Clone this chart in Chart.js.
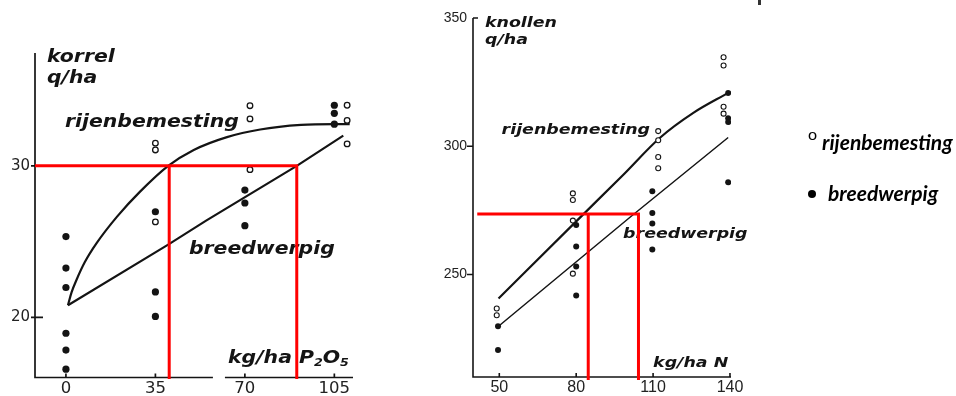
<!DOCTYPE html>
<html lang="nl">
<head>
<meta charset="utf-8">
<title>Rijenbemesting en breedwerpige bemesting</title>
<script src="https://cdn.jsdelivr.net/npm/chart.js@4.4.1/dist/chart.umd.min.js"></script>
<style>
  html, body { margin: 0; padding: 0; background: #fff; }
  #stage { position: relative; width: 956px; height: 396px; overflow: hidden; background: #fff; }
  #stage canvas { position: absolute; left: 0; top: 0; }
  .key { position: absolute; font-family: Lato, "Open Sans", sans-serif; font-style: italic; font-weight: 700;
         font-size: 21px; line-height: 21px; color: #000; white-space: pre; }
  .key-open { position: absolute; font-family: Lato, sans-serif; font-size: 16px; line-height: 16px; color: #000; }
  .key-dot { position: absolute; width: 8px; height: 8px; border-radius: 50%; background: #000; }
  .edge-mark { position: absolute; left: 758px; top: 0; width: 3px; height: 5px; background: #333; }
</style>
</head>
<body>
<div id="stage">
  <canvas id="grain" width="956" height="396"></canvas>
  <canvas id="tubers" width="956" height="396"></canvas>
  <div class="key-open" style="left:808px; top:126px;">o</div>
  <div class="key" style="left:822px; top:131px;">rijenbemesting</div>
  <div class="key-dot" style="left:808px; top:190px;"></div>
  <div class="key" style="left:828px; top:182px;">breedwerpig</div>
  <div class="edge-mark"></div>
</div>
<script>
// ---- Graan: korrelopbrengst (q/ha) bij oplopende fosfaatgift (kg/ha P2O5) ----
const grainTicksX = [0, 35, 70, 105];
const grainTicksY = [20, 30];

// rijenbemesting (open rondjes)
const grainRowX = [35, 35, 35, 72, 72, 72, 110, 110, 110];
const grainRowY = [31.5, 31.05, 26.3, 33.97, 33.1, 29.75, 34.0, 33.0, 31.45];
// breedwerpig (dichte punten)
const grainBroadX = [0, 0, 0, 0, 0, 0, 35, 35, 35, 70, 70, 70, 105, 105, 105];
const grainBroadY = [25.33, 23.25, 21.97, 18.95, 17.84, 16.58, 26.97, 21.68, 20.06, 28.4, 27.55, 26.05, 34.0, 33.47, 32.75];

// responscurven
const grainRowCurveX = [0.8, 2.2, 4.2, 7.4, 12, 20, 29, 40, 50, 63, 76, 92, 105, 111];
const grainRowCurveY = [20.8, 21.65, 22.5, 23.65, 24.9, 26.65, 28.3, 30.0, 31.05, 31.9, 32.4, 32.7, 32.75, 32.75];
const grainBroadLineX = [0.8, 40, 55, 90.3, 108.5];
const grainBroadLineY = [20.8, 24.8, 26.4, 30.0, 32.0];

// hulplijnen bij 30 q/ha
const grainGuideAX = [-12.1, 90.3, 90.3];
const grainGuideAY = [30, 30, 15.93];
const grainGuideBX = [40.4, 40.4];
const grainGuideBY = [30, 15.93];

// ---- Aardappel: knolopbrengst (q/ha) bij oplopende stikstofgift (kg/ha N) ----
const tuberTicksX = [50, 80, 110, 140];
const tuberTicksY = [250, 300, 350];

const tuberRowX = [49, 49, 78.7, 78.7, 78.7, 78.7, 112, 112, 112, 112, 137.5, 137.5, 137.5, 137.5];
const tuberRowY = [236.7, 234.1, 281.6, 279.0, 271.0, 250.3, 305.9, 302.3, 295.8, 291.4, 334.7, 331.5, 315.4, 312.7];
const tuberBroadX = [49.5, 49.5, 80, 80, 80, 80, 109.7, 109.7, 109.7, 109.7, 139.3, 139.3, 139.3, 139.3];
const tuberBroadY = [229.8, 220.5, 269.3, 260.9, 253.1, 241.8, 282.4, 274.0, 269.9, 259.7, 320.8, 310.9, 309.4, 285.9];

const tuberRowCurveX = [49.7, 80, 98.3, 112.7, 125.7, 139.3];
const tuberRowCurveY = [240.6, 270.7, 288.8, 303.3, 313.0, 320.8];
const tuberBroadLineX = [49.7, 101, 139.3];
const tuberBroadLineY = [229.8, 272.3, 303.4];

const tuberGuideAX = [41.4, 104.3, 104.3];
const tuberGuideAY = [273.6, 273.6, 208.8];
const tuberGuideBX = [84.7, 84.7];
const tuberGuideBY = [273.6, 208.8];

const INK = '#141414';
const RED = '#ff0000';

const pts = (xs, ys) => xs.map((x, i) => ({ x, y: ys[i] }));

// Assen zoals in de oorspronkelijke figuur: alleen lijnen, korte streepjes naar binnen
const scanAxes = {
  id: 'scanAxes',
  beforeDatasetsDraw(chart, args, o) {
    const { ctx, chartArea: a, scales: { x, y } } = chart;
    ctx.save();
    ctx.strokeStyle = INK;
    ctx.lineWidth = o.width;
    ctx.lineCap = 'butt';
    ctx.beginPath();
    ctx.moveTo(a.left, a.top);
    ctx.lineTo(a.left, a.bottom + o.width / 2);
    let start = a.left - o.width / 2;
    for (const [g0, g1] of o.breaks) {
      ctx.moveTo(start, a.bottom);
      ctx.lineTo(x.getPixelForValue(g0), a.bottom);
      start = x.getPixelForValue(g1);
    }
    ctx.moveTo(start, a.bottom);
    ctx.lineTo(a.right, a.bottom);
    for (const t of y.ticks) {
      const py = y.getPixelForValue(t.value);
      if (o.capIn && t.value >= y.max) {
        ctx.moveTo(a.left, py);
        ctx.lineTo(a.left + o.capIn, py);
      } else {
        ctx.moveTo(a.left - o.yOut, py);
        ctx.lineTo(a.left + o.yIn, py);
      }
    }
    for (const t of x.ticks) {
      const px = x.getPixelForValue(t.value);
      ctx.moveTo(px, a.bottom);
      ctx.lineTo(px, a.bottom - o.xUp);
    }
    ctx.stroke();
    ctx.restore();
  }
};

// Vette schuine opschriften binnen de grafiek, verankerd aan de schalen
const panelText = {
  id: 'panelText',
  beforeDatasetsDraw(chart, args, o) {
    const { ctx, scales: { x, y } } = chart;
    ctx.save();
    ctx.fillStyle = INK;
    ctx.textBaseline = 'alphabetic';
    ctx.textAlign = 'left';
    for (const item of o.items) {
      ctx.save();
      ctx.translate(x.getPixelForValue(item.x), y.getPixelForValue(item.y));
      ctx.scale(o.stretch, 1);
      let cx = 0;
      for (const part of item.parts) {
        const size = part.sub ? o.size * 0.62 : o.size;
        ctx.font = `italic bold ${size}px "DejaVu Sans"`;
        ctx.fillText(part.t, cx, part.sub ? size * 0.3 : 0);
        cx += ctx.measureText(part.t).width;
      }
      ctx.restore();
    }
    ctx.restore();
  }
};

function axis(cfg) {
  return {
    type: 'linear',
    min: cfg.min,
    max: cfg.max,
    afterBuildTicks: s => { s.ticks = cfg.ticks.map(v => ({ value: v })); },
    afterFit: s => {
      if (s.isHorizontal()) s.height = cfg.size; else s.width = cfg.size;
      s.paddingLeft = s.paddingRight = s.paddingTop = s.paddingBottom = 0;
    },
    grid: { display: false, drawTicks: false },
    border: { display: false },
    ticks: {
      color: '#222', font: cfg.font, padding: cfg.pad,
      autoSkip: false, maxRotation: 0, minRotation: 0,
      callback: v => String(v)
    }
  };
}

function lineSet(xs, ys, color, width, extra) {
  return Object.assign({
    type: 'line', data: pts(xs, ys), borderColor: color, borderWidth: width,
    pointRadius: 0, showLine: true, fill: false, tension: 0
  }, extra || {});
}

function dotSet(xs, ys, r) {
  return { type: 'scatter', data: pts(xs, ys), pointRadius: r,
           pointBackgroundColor: INK, pointBorderColor: INK, pointBorderWidth: 0 };
}

function ringSet(xs, ys, r, w) {
  return { type: 'scatter', data: pts(xs, ys), pointRadius: r,
           pointBackgroundColor: '#fff', pointBorderColor: INK, pointBorderWidth: w };
}

const common = {
  responsive: false,
  animation: false,
  devicePixelRatio: 1,
  events: [],
};

new Chart(document.getElementById('grain'), {
  type: 'scatter',
  data: {
    datasets: [
      lineSet(grainGuideAX, grainGuideAY, RED, 3, { clip: false }),
      lineSet(grainGuideBX, grainGuideBY, RED, 3, { clip: false }),
      dotSet(grainBroadX, grainBroadY, 3.6),
      ringSet(grainRowX, grainRowY, 2.8, 1.3),
      lineSet(grainRowCurveX, grainRowCurveY, INK, 2.2, { cubicInterpolationMode: 'monotone' }),
      lineSet(grainBroadLineX, grainBroadLineY, INK, 2.2)
    ]
  },
  options: Object.assign({}, common, {
    layout: { padding: { left: 0, right: 603, top: 53, bottom: 0 } },
    plugins: {
      legend: { display: false },
      tooltip: { enabled: false },
      scanAxes: { width: 1.7, breaks: [[57.5, 62.2]], yOut: 4, yIn: 8, xUp: 4 },
      panelText: {
        size: 17, stretch: 1.2,
        items: [
          { x: -7.4, y: 36.88, parts: [{ t: 'korrel' }] },
          { x: -7.4, y: 35.45, parts: [{ t: 'q/ha' }] },
          { x: -0.4, y: 32.59, parts: [{ t: 'rijenbemesting' }] },
          { x: 48.1, y: 24.2, parts: [{ t: 'breedwerpig' }] },
          { x: 63.4, y: 17.0, parts: [{ t: 'kg/ha P' }, { t: '2', sub: true }, { t: 'O' }, { t: '5', sub: true }] }
        ]
      }
    },
    scales: {
      x: axis({ min: -12.1, max: 112.3, ticks: grainTicksX, size: 18.5, pad: 1,
                font: { family: '"DejaVu Sans"', size: 16.5 } }),
      y: axis({ min: 16.03, max: 37.45, ticks: grainTicksY, size: 35, pad: 5,
                font: { family: '"DejaVu Sans"', size: 15 } })
    }
  }),
  plugins: [scanAxes, panelText]
});

new Chart(document.getElementById('tubers'), {
  type: 'scatter',
  data: {
    datasets: [
      lineSet(tuberGuideAX, tuberGuideAY, RED, 3, { clip: false }),
      lineSet(tuberGuideBX, tuberGuideBY, RED, 3, { clip: false }),
      dotSet(tuberBroadX, tuberBroadY, 3),
      ringSet(tuberRowX, tuberRowY, 2.5, 1.1),
      lineSet(tuberRowCurveX, tuberRowCurveY, INK, 2.2, { cubicInterpolationMode: 'monotone' }),
      lineSet(tuberBroadLineX, tuberBroadLineY, INK, 1.5)
    ]
  },
  options: Object.assign({}, common, {
    layout: { padding: { left: 438, right: 225, top: 18, bottom: 0 } },
    plugins: {
      legend: { display: false },
      tooltip: { enabled: false },
      scanAxes: { width: 1.6, breaks: [], yOut: 6, yIn: 0, xUp: 4, capIn: 5 },
      panelText: {
        size: 14.5, stretch: 1.2,
        items: [
          { x: 44.4, y: 346.37, parts: [{ t: 'knollen' }] },
          { x: 44.4, y: 339.74, parts: [{ t: 'q/ha' }] },
          { x: 50.9, y: 304.76, parts: [{ t: 'rijenbemesting' }] },
          { x: 98.3, y: 264.08, parts: [{ t: 'breedwerpig' }] },
          { x: 110.0, y: 213.99, parts: [{ t: 'kg/ha N' }] }
        ]
      }
    },
    scales: {
      x: axis({ min: 39.74, max: 140.4, ticks: tuberTicksX, size: 19, pad: 1,
                font: { family: '"Liberation Sans"', size: 16 } }),
      y: axis({ min: 210, max: 350, ticks: tuberTicksY, size: 35, pad: 6,
                font: { family: '"Liberation Sans"', size: 14 } })
    }
  }),
  plugins: [scanAxes, panelText]
});
</script>
</body>
</html>
